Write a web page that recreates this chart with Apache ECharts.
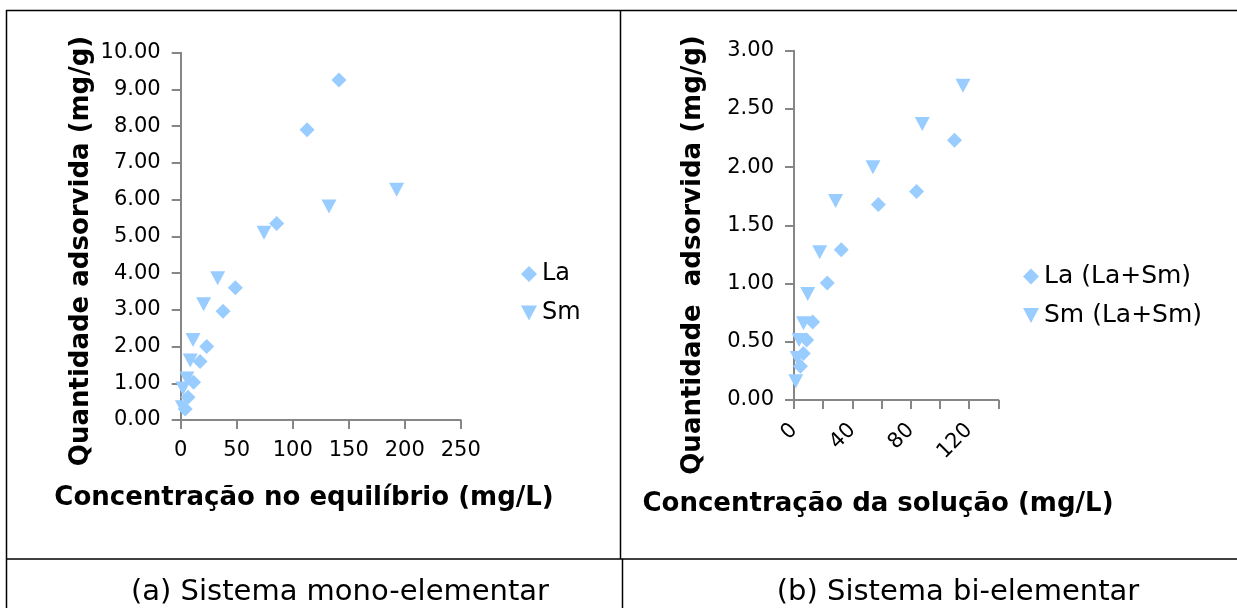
<!DOCTYPE html>
<html>
<head>
<meta charset="utf-8">
<script src="https://cdn.jsdelivr.net/npm/echarts@6/dist/echarts.min.js"></script>
<style>
  html, body { margin: 0; padding: 0; background: #fff; }
  #chart { width: 1237px; height: 608px; }
</style>
</head>
<body>
<div id="chart"></div>
<script>
// (a) mono-elementar
var laMonoX = [4.0, 6.5, 11.5, 17.3, 23.2, 37.8, 48.8, 85.7, 112.8, 141.3];
var laMonoY = [0.30, 0.62, 1.03, 1.59, 2.00, 2.96, 3.60, 5.35, 7.90, 9.26];
var smMonoX = [1.5, 2.0, 5.5, 8.5, 11.0, 20.5, 33.0, 74.4, 132.4, 192.8];
var smMonoY = [0.35, 0.86, 1.13, 1.62, 2.18, 3.15, 3.86, 5.10, 5.81, 6.27];

// (b) bi-elementar
var laBiX = [4.4, 6.4, 8.7, 12.8, 22.8, 32.4, 57.8, 84.0, 110.0];
var laBiY = [0.29, 0.40, 0.515, 0.67, 1.005, 1.29, 1.68, 1.79, 2.23];
var smBiX = [1.2, 2.2, 3.5, 6.5, 9.4, 17.6, 28.5, 54.1, 87.9, 115.8];
var smBiY = [0.16, 0.36, 0.515, 0.66, 0.91, 1.27, 1.71, 2.00, 2.37, 2.70];

var namesMono = ['La', 'Sm'];
var namesBi = ['La (La+Sm)', 'Sm (La+Sm)'];
var titleYMono = 'Quantidade adsorvida (mg/g)';
var titleYBi = 'Quantidade  adsorvida (mg/g)';
var titleXMono = 'Concentração no equilíbrio (mg/L)';
var titleXBi = 'Concentração da solução (mg/L)';
var captionMono = '(a) Sistema mono-elementar';
var captionBi = '(b) Sistema bi-elementar';

function pairs(xs, ys) {
  return xs.map(function (x, i) { return [x, ys[i]]; });
}

var font = 'DejaVu Sans';
var markColor = '#99ccff';
var axisColor = '#868686';
var downTri = 'path://M0,0 L14,0 L7,13 Z';

function axisBase() {
  return {
    axisLine: { show: true, onZero: false, lineStyle: { color: axisColor, width: 2 } },
    axisTick: { show: true, length: 9, lineStyle: { color: axisColor, width: 2 } },
    splitLine: { show: false },
    axisLabel: { color: '#000', fontFamily: font, fontSize: 21 }
  };
}

var xa0 = axisBase();
xa0.gridIndex = 0; xa0.type = 'value'; xa0.min = 0; xa0.max = 250; xa0.interval = 50;
xa0.axisLabel.margin = 20;

var xa1 = axisBase();
xa1.gridIndex = 1; xa1.type = 'value'; xa1.min = 0; xa1.max = 140; xa1.interval = 20;
xa1.axisLabel.margin = 27;
xa1.axisLabel.rotate = 45;
xa1.axisLabel.formatter = function (v) { return v % 40 === 0 ? String(v) : ''; };

var ya0 = axisBase();
ya0.gridIndex = 0; ya0.type = 'value'; ya0.min = 0; ya0.max = 10; ya0.interval = 1;
ya0.axisLabel.margin = 20;
ya0.axisLabel.formatter = function (v) { return v.toFixed(2); };

var ya1 = axisBase();
ya1.gridIndex = 1; ya1.type = 'value'; ya1.min = 0; ya1.max = 3; ya1.interval = 0.5;
ya1.axisLabel.margin = 20;
ya1.axisLabel.formatter = function (v) { return v.toFixed(2); };

function scatter(name, idx, data, sym) {
  var isDia = sym === 'diamond';
  return {
    name: name,
    type: 'scatter',
    xAxisIndex: idx,
    yAxisIndex: idx,
    data: data,
    symbol: isDia ? 'diamond' : downTri,
    symbolSize: isDia ? 15 : [15, 14],
    itemStyle: { color: markColor, opacity: 1 },
    emphasis: { disabled: true },
    silent: true
  };
}

function txt(x, y, s, size, bold, rot) {
  return {
    type: 'text',
    x: x, y: y,
    rotation: rot || 0,
    silent: true,
    style: {
      text: s,
      fill: '#000',
      font: (bold ? 'bold ' : '') + size + 'px "' + font + '"',
      textAlign: 'center',
      textVerticalAlign: 'middle'
    }
  };
}

function ln(x1, y1, x2, y2) {
  return {
    type: 'line',
    silent: true,
    shape: { x1: x1, y1: y1, x2: x2, y2: y2 },
    style: { stroke: '#000', lineWidth: 1.5 }
  };
}

var chart = echarts.init(document.getElementById('chart'));
chart.setOption({
  animation: false,
  backgroundColor: '#fff',
  grid: [
    { left: 180.7, top: 52.7, width: 280, height: 367.3 },
    { left: 794, top: 50.7, width: 204.3, height: 349.3 }
  ],
  xAxis: [xa0, xa1],
  yAxis: [ya0, ya1],
  legend: [{
    data: namesMono,
    orient: 'vertical',
    left: 516, top: 257,
    itemWidth: 16, itemHeight: 16, itemGap: 15,
    selectedMode: false,
    textStyle: { fontFamily: font, fontSize: 24, color: '#000' }
  }, {
    data: namesBi,
    orient: 'vertical',
    left: 1018, top: 259,
    itemWidth: 16, itemHeight: 16, itemGap: 14,
    selectedMode: false,
    textStyle: { fontFamily: font, fontSize: 25, color: '#000' }
  }],
  series: [
    scatter(namesMono[0], 0, pairs(laMonoX, laMonoY), 'diamond'),
    scatter(namesMono[1], 0, pairs(smMonoX, smMonoY), 'triangle'),
    scatter(namesBi[0], 1, pairs(laBiX, laBiY), 'diamond'),
    scatter(namesBi[1], 1, pairs(smBiX, smBiY), 'triangle')
  ],
  graphic: [
    ln(6, 10.5, 1237, 10.5),
    ln(6.5, 10, 6.5, 608),
    ln(620.5, 10, 620.5, 559),
    ln(622.5, 559, 622.5, 608),
    ln(6, 559, 1237, 559),
    txt(81, 251, titleYMono, 26, true, Math.PI / 2),
    txt(693, 255, titleYBi, 26, true, Math.PI / 2),
    txt(304, 498, titleXMono, 26, true),
    txt(878, 504, titleXBi, 26, true),
    txt(340, 592, captionMono, 29, false),
    txt(958, 592, captionBi, 29, false)
  ]
});
</script>
</body>
</html>
